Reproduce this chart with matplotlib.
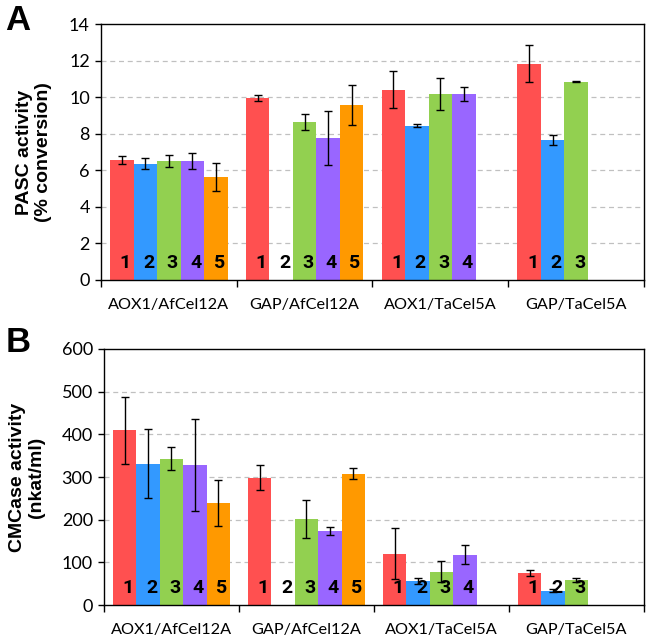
import numpy as np
import matplotlib
matplotlib.use("Agg")
import matplotlib.pyplot as plt

# Data
groups = ["AOX1/AfCel12A", "GAP/AfCel12A", "AOX1/TaCel5A", "GAP/TaCel5A"]
n_strains = [5, 5, 4, 3]
colors = ["#FF5050", "#3399FF", "#92D050", "#9966FF", "#FF9900"]

# panel A: PASC activity (% conversion), one list per strain (1..5), nan = not present
pasc_1 = [6.57, 9.96, 10.40, 11.82]
pasc_2 = [6.35, 0.0, 8.43, 7.66]
pasc_3 = [6.51, 8.65, 10.16, 10.84]
pasc_4 = [6.51, 7.77, 10.16, np.nan]
pasc_5 = [5.64, 9.58, np.nan, np.nan]
pasc_err_1 = [0.23, 0.15, 1.02, 1.01]
pasc_err_2 = [0.30, 0.0, 0.09, 0.26]
pasc_err_3 = [0.31, 0.44, 0.89, 0.02]
pasc_err_4 = [0.44, 1.46, 0.39, np.nan]
pasc_err_5 = [0.75, 1.10, np.nan, np.nan]

# panel B: CMCase activity (nkat/ml)
cmc_1 = [409, 298, 120, 76]
cmc_2 = [331, 0, 57, 34]
cmc_3 = [343, 201, 78, 59]
cmc_4 = [328, 174, 118, np.nan]
cmc_5 = [240, 308, np.nan, np.nan]
cmc_err_1 = [78, 29, 60, 7]
cmc_err_2 = [81, 0, 7, 3]
cmc_err_3 = [27, 44, 25, 4]
cmc_err_4 = [107, 10, 23, np.nan]
cmc_err_5 = [54, 12, np.nan, np.nan]

plt.rcParams["font.family"] = ["Lato", "DejaVu Sans"]

fig = plt.figure(figsize=(6.49, 6.42), dpi=100)
axA = fig.add_axes([0.1556, 0.5639, 0.8367, 0.3987])
axB = fig.add_axes([0.1602, 0.0576, 0.8321, 0.3988])

w = 0.173
x = np.arange(len(groups))


def draw(ax, vals, errs, ymax, step, label_y):
    for j in range(5):
        v = np.array(vals[j], dtype=float)
        e = np.array(errs[j], dtype=float)
        xs = x + (j - 2) * w
        ok = ~np.isnan(v)
        ax.bar(xs[ok], v[ok], width=w, color=colors[j], zorder=2)
        ok2 = ok & (e > 0)
        ax.errorbar(xs[ok2], v[ok2], yerr=e[ok2], fmt="none", ecolor="black",
                    elinewidth=1, capsize=3, capthick=1, zorder=3)
        # strain numbers inside the bars
        for i in range(len(groups)):
            if j < n_strains[i]:
                ax.text(xs[i] + 0.025, label_y, str(j + 1), ha="center", va="center",
                        fontsize=14, fontweight="bold",
                        family=["Roboto", "DejaVu Sans"], zorder=4)
    ax.set_xlim(-0.5, len(groups) - 0.5)
    ax.set_ylim(0, ymax)
    ax.set_yticks(np.arange(0, ymax + step / 2, step))
    for g in np.arange(step, ymax, step):
        ax.axhline(g, color="#c0c0c0", lw=0.9, ls=(0, (4, 3)), zorder=1)
    ax.set_xticks(x)
    ax.set_xticklabels(groups)
    ax.set_xticks(np.arange(-0.5, len(groups)), minor=True)
    ax.tick_params(axis="x", which="major", length=0, labelsize=11.7, pad=13)
    ax.tick_params(axis="x", which="minor", length=5, width=1, direction="out")
    ax.tick_params(axis="y", length=4, width=1, direction="out", labelsize=13, pad=4)
    for s in ax.spines.values():
        s.set_linewidth(1)


draw(axA, [pasc_1, pasc_2, pasc_3, pasc_4, pasc_5],
     [pasc_err_1, pasc_err_2, pasc_err_3, pasc_err_4, pasc_err_5], 14, 2, 0.93)
draw(axB, [cmc_1, cmc_2, cmc_3, cmc_4, cmc_5],
     [cmc_err_1, cmc_err_2, cmc_err_3, cmc_err_4, cmc_err_5], 600, 100, 40)

fig.text(34 / 649, 1 - 152 / 642, "PASC activity\n(% conversion)", rotation=90,
         ha="center", va="center", fontsize=14, fontweight="bold",
         family=["Liberation Sans", "DejaVu Sans"], linespacing=1.1)
fig.text(27 / 649, 1 - 477 / 642, "CMCase activity\n(nkat/ml)", rotation=90,
         ha="center", va="center", fontsize=14, fontweight="bold",
         family=["Liberation Sans", "DejaVu Sans"], linespacing=1.1)

fig.text(18 / 649, 1 - 20 / 642, "A", ha="center", va="center", fontsize=25,
         fontweight="bold", family=["Liberation Sans", "DejaVu Sans"])
fig.text(18 / 649, 1 - 343 / 642, "B", ha="center", va="center", fontsize=25,
         fontweight="bold", family=["Liberation Sans", "DejaVu Sans"])

fig.savefig("out.png", dpi=100)
